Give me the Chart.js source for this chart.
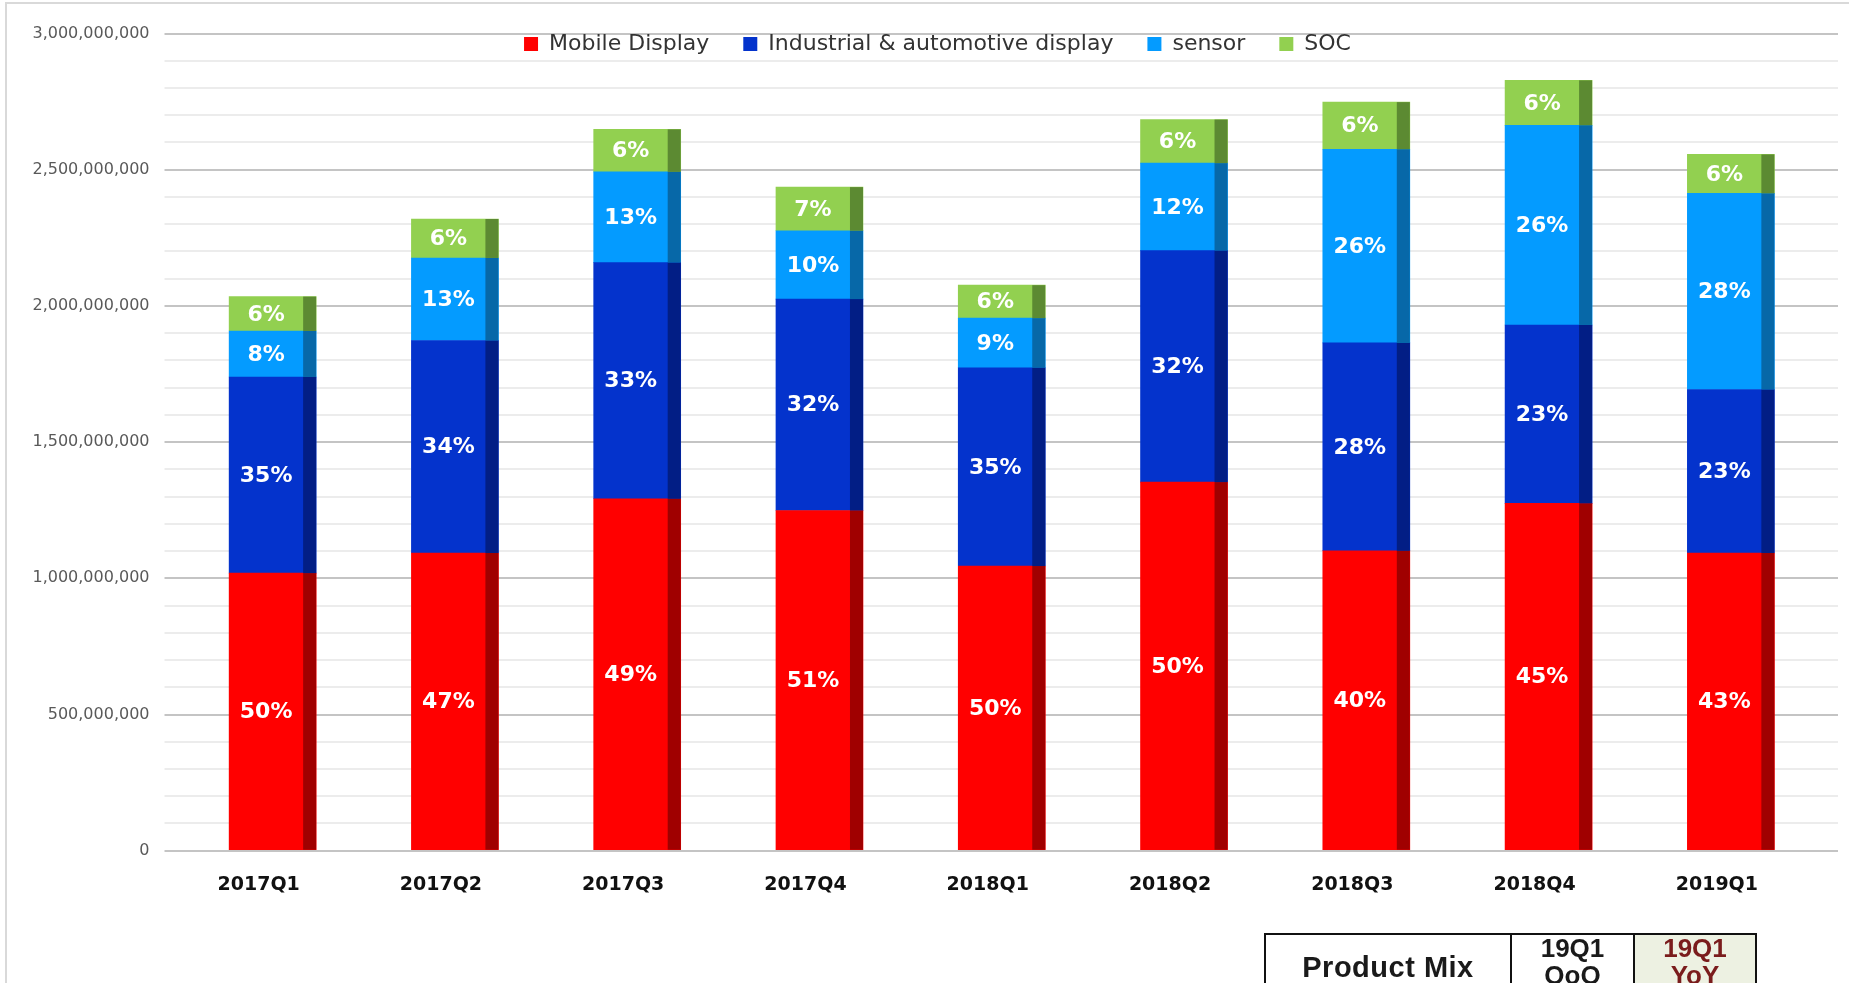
<!DOCTYPE html>
<html>
<head>
  <title>Product Mix by Quarter</title>
  <style>
    body { margin: 0; width: 1849px; height: 983px; overflow: hidden; background: #fff; font-family: "DejaVu Sans", sans-serif; }
    .frame { position: absolute; left: 5px; top: 2px; width: 1900px; height: 1100px; border: 2px solid #d9d9d9; }
    .chart-box { position: absolute; left: 0; top: 0; width: 1849px; height: 983px; }
    table.mix { position: absolute; left: 1264px; top: 933px; border-collapse: collapse; table-layout: fixed; font-family: "Liberation Sans", Arial, sans-serif; font-weight: bold; text-align: center; color: #1a1a1a; }
    table.mix td { border: 2px solid #111; padding: 0; height: 64px; }
    table.mix .pm { width: 244px; font-size: 29px; letter-spacing: 0.5px; vertical-align: middle; }
    table.mix .q { width: 121px; font-size: 26px; line-height: 27px; vertical-align: top; }
    table.mix .y { width: 120px; font-size: 26px; line-height: 27px; vertical-align: top; background: #edf1e2; color: #7a1c1c; }
  </style>
</head>
<body>

<div class="frame"></div>
<div class="chart-box"><canvas id="mix-chart"></canvas></div>

<table class="mix">
  <tr>
    <td class="pm">Product Mix</td>
    <td class="q">19Q1<br>QoQ</td>
    <td class="y">19Q1<br>YoY</td>
  </tr>
</table>

<script src="https://cdn.jsdelivr.net/npm/chart.js"></script>
<script>
// quarterly revenue by product line
const quarters = ['2017Q1', '2017Q2', '2017Q3', '2017Q4', '2018Q1', '2018Q2', '2018Q3', '2018Q4', '2019Q1'];
const mobileDisplay = [1019000000, 1093000000, 1292000000, 1249000000, 1045000000, 1353000000, 1101000000, 1275000000, 1093000000];
const industrialDisplay = [720000000, 780000000, 867000000, 776000000, 728000000, 850000000, 763000000, 655000000, 600000000];
const sensor = [169000000, 303000000, 333000000, 251000000, 182000000, 321000000, 711000000, 733000000, 720000000];
const soc = [126000000, 143000000, 156000000, 160000000, 121000000, 160000000, 173000000, 165000000, 143000000];

const yMax = 3000000000;
const yMinorStep = 100000000;
const yLabelStep = 500000000;

const SIDE = 13; // width of the darker "3d" side of each bar

function withCommas(v) {
  return String(v).replace(/\B(?=(\d{3})+(?!\d))/g, ',');
}

function gridColor(ctx) {
  const v = ctx.tick ? ctx.tick.value : 0;
  return Math.round(v / yMinorStep) % (yLabelStep / yMinorStep) === 0 ? '#c4c4c4' : '#ececec';
}

// darker strip on the right of every bar segment
const barSides = {
  id: 'barSides',
  afterDatasetsDraw(chart) {
    const ctx = chart.ctx;
    ctx.save();
    chart.data.datasets.forEach((ds, i) => {
      chart.getDatasetMeta(i).data.forEach(bar => {
        const p = bar.getProps(['x', 'y', 'base', 'width'], true);
        ctx.fillStyle = ds.sideColor;
        ctx.fillRect(p.x + p.width / 2 - SIDE, Math.min(p.y, p.base), SIDE, Math.abs(p.base - p.y));
      });
    });
    ctx.restore();
  }
};

// share of each segment in its quarter's total
const pctLabels = {
  id: 'pctLabels',
  afterDatasetsDraw(chart) {
    const ctx = chart.ctx;
    const sets = chart.data.datasets;
    const totals = quarters.map((q, j) => sets.reduce((s, ds) => s + ds.data[j], 0));
    ctx.save();
    ctx.fillStyle = '#ffffff';
    ctx.font = 'bold 22px "DejaVu Sans"';
    ctx.textAlign = 'center';
    ctx.textBaseline = 'middle';
    sets.forEach((ds, i) => {
      chart.getDatasetMeta(i).data.forEach((bar, j) => {
        const p = bar.getProps(['x', 'y', 'base'], true);
        const pct = Math.round(ds.data[j] / totals[j] * 100) + '%';
        ctx.fillText(pct, p.x - SIDE / 2, (p.y + p.base) / 2 + 1);
      });
    });
    ctx.restore();
  }
};

// Excel puts the legend inside the plot, between the top gridlines
const legendInPlot = {
  id: 'legendInPlot',
  beforeLayout(chart) {
    const legend = chart.legend;
    if (!legend || legend._patched) return;
    const fit = legend.fit;
    legend.fit = function () { fit.call(this); this.height = 33.5; };
    legend._patched = true;
  },
  afterLayout(chart) {
    const legend = chart.legend;
    legend.left = 26;
    legend.right = chart.width;
    legend.width = legend.right - legend.left;
    legend.top = -1;
    legend.bottom = 75;
    legend.height = legend.bottom - legend.top;
  }
};

const ctx = document.getElementById('mix-chart').getContext('2d');
new Chart(ctx, {
  type: 'bar',
  data: {
    labels: quarters,
    datasets: [
      { label: 'Mobile Display', data: mobileDisplay, backgroundColor: '#ff0000', sideColor: '#a00000' },
      { label: 'Industrial & automotive display', data: industrialDisplay, backgroundColor: '#0433cc', sideColor: '#021e85' },
      { label: 'sensor', data: sensor, backgroundColor: '#049bff', sideColor: '#0768a8' },
      { label: 'SOC', data: soc, backgroundColor: '#92d050', sideColor: '#5c8a32' }
    ].map(ds => Object.assign(ds, { borderWidth: 0, barThickness: 87 }))
  },
  options: {
    responsive: true,
    maintainAspectRatio: false,
    animation: false,
    layout: { padding: { left: 0, right: 11, top: 0, bottom: 0 } },
    plugins: {
      tooltip: { enabled: false },
      legend: {
        display: true,
        position: 'top',
        labels: {
          boxWidth: 14,
          boxHeight: 14,
          padding: 34,
          color: '#333333',
          font: { family: '"DejaVu Sans"', size: 22 }
        }
      }
    },
    scales: {
      x: {
        stacked: true,
        grid: { display: false, drawTicks: false },
        border: { display: false },
        ticks: {
          color: '#111111',
          font: { family: '"DejaVu Sans"', size: 19, weight: 'bold' },
          padding: 23,
          labelOffset: -14,
          maxRotation: 0,
          autoSkip: false
        },
        afterFit: s => { s.height = 132.3; }
      },
      y: {
        stacked: true,
        min: 0,
        max: yMax,
        border: { display: false },
        grid: { color: gridColor, tickColor: gridColor, lineWidth: 2, drawTicks: true, tickLength: 17 },
        ticks: {
          stepSize: yMinorStep,
          maxTicksLimit: 100,
          autoSkip: false,
          padding: 15,
          color: '#595959',
          font: { family: '"DejaVu Sans"', size: 16 },
          callback: v => (Math.round(v / yMinorStep) % (yLabelStep / yMinorStep) === 0 ? withCommas(v) : '')
        },
        afterFit: s => { s.width = 181.5; }
      },
      yBack: {
        position: 'right',
        min: 0,
        max: yMax,
        border: { display: false },
        grid: { color: gridColor, tickColor: gridColor, lineWidth: 2, drawOnChartArea: false, drawTicks: true, tickLength: 16 },
        ticks: { display: false, stepSize: yMinorStep, maxTicksLimit: 100 },
        afterFit: s => { s.width = 16; }
      }
    }
  },
  plugins: [legendInPlot, barSides, pctLabels]
});
</script>

</body>
</html>
